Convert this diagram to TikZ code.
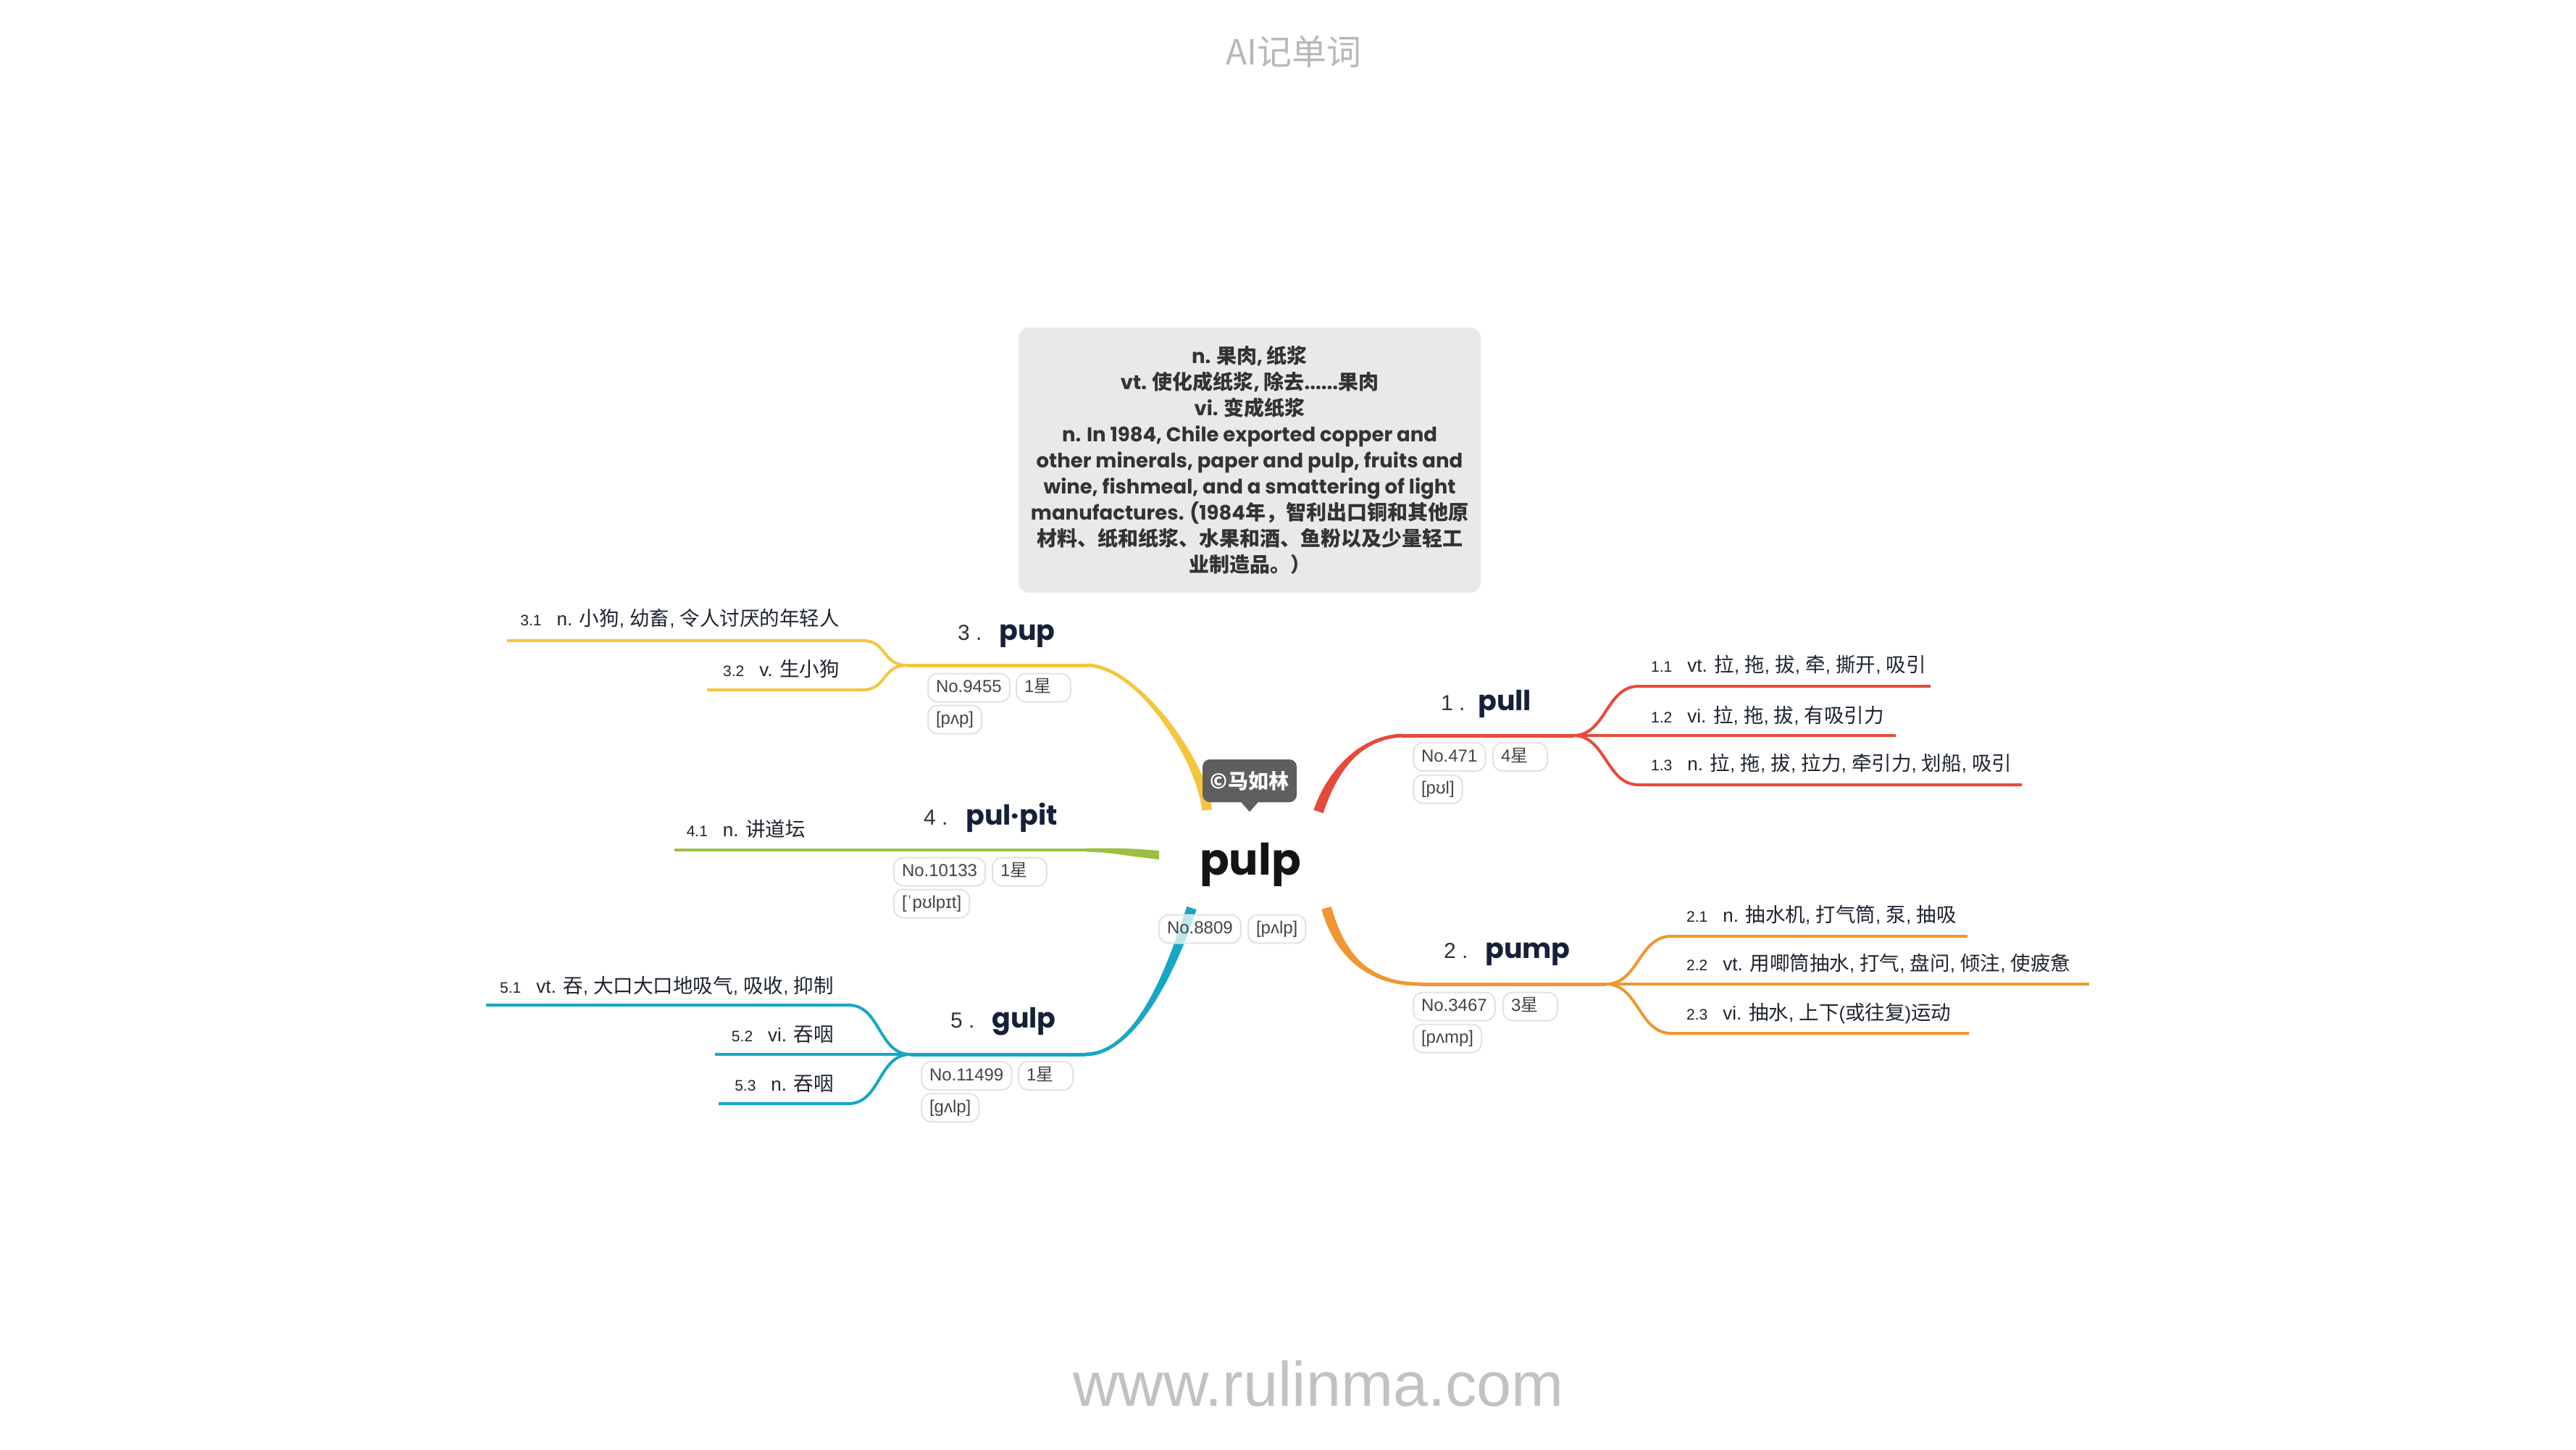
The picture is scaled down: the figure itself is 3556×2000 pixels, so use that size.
\documentclass[tikz,border=0pt]{standalone}
\usepackage{fontspec}
\setmainfont{Liberation Sans}
\newfontfamily\popf{Poppins}
\newfontfamily\cjkfam{Noto Sans CJK SC}
\usetikzlibrary{calc}
% automatic switch to the CJK font for CJK characters
\XeTeXinterchartokenstate=1
\newXeTeXintercharclass\CJKcls
\newcount\cjkc
\def\setcjkrange#1#2{\cjkc=#1 \loop\XeTeXcharclass\cjkc=\CJKcls\advance\cjkc by 1 \ifnum\cjkc<#2 \repeat}
\setcjkrange{"4E00}{"A000}
\setcjkrange{"3000}{"3040}
\setcjkrange{"FF00}{"FFF0}
\def\cjkswitch{\cjkfam}
\XeTeXinterchartoks 0 \CJKcls={\begingroup\cjkswitch}
\XeTeXinterchartoks 4095 \CJKcls={\begingroup\cjkswitch}
\XeTeXinterchartoks \CJKcls 0={\endgroup}
\XeTeXinterchartoks \CJKcls 4095={\endgroup}

\definecolor{cred}{HTML}{E64A3B}
\definecolor{corange}{HTML}{F0972F}
\definecolor{cyellow}{HTML}{F6C540}
\definecolor{cgreen}{HTML}{9DBE43}
\definecolor{cblue}{HTML}{17A6C6}
\definecolor{navy}{HTML}{16203A}
\definecolor{numc}{HTML}{333333}
\definecolor{labc}{HTML}{1E2430}
\definecolor{tagborder}{HTML}{E2E2E2}
\definecolor{tagtext}{HTML}{444444}
\definecolor{defbg}{HTML}{E9E9E9}
\definecolor{bubble}{HTML}{5E5E5E}
\definecolor{wmark}{HTML}{C2C2C2}

\newcommand\sublab[2]{{\fontsize{21}{26}\selectfont #1}\hspace{21pt}{\def\cjkswitch{\cjkfam\fontsize{27.5}{32}\selectfont}#2}}
\newcommand\taperbranch[7]{\fill[#1] ($#2+#6$) .. controls ($#3+#6$) and ($#4+#7$) .. ($#5+#7$) -- ($#5-#7$) .. controls ($#4-#7$) and ($#3-#6$) .. ($#2-#6$) -- cycle;}

\tikzset{
  sub/.style={line width=4pt},
  mainseg/.style={line width=5pt},
  tag/.style={draw=tagborder, line width=2pt, rounded corners=13pt, fill=white, fill opacity=0.72, text opacity=1, draw opacity=1, text=tagtext, font=\fontsize{24}{28}\selectfont, inner xsep=11pt, inner ysep=0pt, minimum height=39pt, text height=18pt, text depth=5pt, anchor=west},
  startag/.style={tag, text width=53pt, align=left},
  num/.style={anchor=base west, inner sep=0pt, font=\fontsize{30}{34}\selectfont, text=numc},
  word/.style={anchor=base west, inner sep=0pt, font=\popf\bfseries\fontsize{38}{44}\selectfont, text=navy},
  lab/.style={inner sep=0pt, font=\fontsize{26}{32}\selectfont, text=labc},
  labR/.style={lab, anchor=base west},
  labL/.style={lab, anchor=base east},
}

\begin{document}
\begin{tikzpicture}[x=1pt,y=-1pt]
\fill[white] (0,0) rectangle (3556,2000);
\useasboundingbox (0,0) rectangle (3556,2000);

% header and footer
\node[font=\cjkfam\fontsize{48}{56}\selectfont, text=wmark!95!black, inner sep=0pt] (title) at (1786,71) {AI记单词};
\node[anchor=base, font=\fontsize{86.5}{96}\selectfont, text=wmark, inner sep=0pt] (foot) at (1820,1940) {www.rulinma.com};

% definition box
\node[fill=defbg, rounded corners=14pt, minimum width=638pt, minimum height=366pt, align=center, inner sep=0pt,
      font=\def\cjkswitch{\cjkfam\fontsize{28}{36}\selectfont}\popf\bfseries\fontsize{27.5}{36}\selectfont, text=numc] (def) at (1725,635)
 {n. 果肉, 纸浆\\
  vt. 使化成纸浆, 除去......果肉\\
  vi. 变成纸浆\\
  n. In 1984, Chile exported copper and\\
  other minerals, paper and pulp, fruits and\\
  wine, fishmeal, and a smattering of light\\
  manufactures. (1984年，智利出口铜和其他原\\
  材料、纸和纸浆、水果和酒、鱼粉以及少量轻工\\
  业制造品。）};

% branch coordinates
\coordinate (r0) at (1820,1120); \coordinate (r3) at (1935,1015); \coordinate (rj) at (2172,1015);
\coordinate (o0) at (1831,1253); \coordinate (o3) at (1960,1358); \coordinate (oj) at (2217,1358);
\coordinate (y0) at (1666,1118); \coordinate (y3) at (1500,918);  \coordinate (yj) at (1252,918);
\coordinate (g0) at (1600,1180); \coordinate (g3) at (1500,1173); \coordinate (ge) at (931,1173);
\coordinate (b0) at (1645,1253); \coordinate (b3) at (1498,1455); \coordinate (bj) at (1257,1455);

% tapered main branches
\taperbranch{cred}{(r0)}{(1835,1075)}{(1870,1018)}{(r3)}{(6.6,2.2)}{(0,2.5)}
\taperbranch{corange}{(o0)}{(1850,1320)}{(1890,1358)}{(o3)}{(-6.7,1.9)}{(0,2.5)}
\taperbranch{cyellow}{(y0)}{(1660,1050)}{(1570,918)}{(y3)}{(7,-0.6)}{(0,-2.5)}
\taperbranch{cgreen}{(g0)}{(1560,1176)}{(1530,1173)}{(g3)}{(0,-6)}{(0,-2.5)}
\taperbranch{cblue}{(b0)}{(1620,1330)}{(1570,1455)}{(b3)}{(-6.6,-2.2)}{(0,-2.5)}

\draw[cred,mainseg] (r3) -- (rj);
\draw[corange,mainseg] (o3) -- (oj);
\draw[cyellow,mainseg] (y3) -- (yj);
\draw[cgreen,sub] (g3) -- (ge);
\draw[cblue,mainseg] (b3) -- (bj);

% sub branches: pull
\coordinate (r1s) at (2262,947);  \coordinate (r1e) at (2665,947);
\coordinate (r2e) at (2617,1015);
\coordinate (r3s) at (2262,1083); \coordinate (r3e) at (2791,1083);
\draw[cred,sub] (rj) .. controls +(45,0) and +(-45,0) .. (r1s) -- (r1e);
\draw[cred,sub] (rj) -- (r2e);
\draw[cred,sub] (rj) .. controls +(45,0) and +(-45,0) .. (r3s) -- (r3e);
% pump
\coordinate (o1s) at (2307,1292); \coordinate (o1e) at (2716,1292);
\coordinate (o2e) at (2884,1358);
\coordinate (o3s) at (2307,1426); \coordinate (o3e) at (2718,1426);
\draw[corange,sub] (oj) .. controls +(45,0) and +(-45,0) .. (o1s) -- (o1e);
\draw[corange,sub] (oj) -- (o2e);
\draw[corange,sub] (oj) .. controls +(45,0) and +(-45,0) .. (o3s) -- (o3e);
% pup
\coordinate (y1s) at (1190,884); \coordinate (y1e) at (700,884);
\coordinate (y2s) at (1190,952); \coordinate (y2e) at (976,952);
\draw[cyellow,sub] (yj) .. controls +(-35,0) and +(35,0) .. (y1s) -- (y1e);
\draw[cyellow,sub] (yj) .. controls +(-35,0) and +(35,0) .. (y2s) -- (y2e);
% gulp
\coordinate (b1s) at (1171,1387); \coordinate (b1e) at (671,1387);
\coordinate (b2e) at (987,1455);
\coordinate (b3s) at (1171,1523); \coordinate (b3e) at (992,1523);
\draw[cblue,sub] (bj) .. controls +(-45,0) and +(45,0) .. (b1s) -- (b1e);
\draw[cblue,sub] (bj) -- (b2e);
\draw[cblue,sub] (bj) .. controls +(-45,0) and +(45,0) .. (b3s) -- (b3e);

% central topic
\node[anchor=base, inner sep=0pt, font=\popf\bfseries\fontsize{60}{70}\selectfont, text=black!92] (c) at (1726,1207) {pulp};
\node[fill=bubble, rounded corners=10pt, minimum width=130pt, minimum height=59pt, inner sep=0pt,
      font=\cjkfam\bfseries\fontsize{28}{32}\selectfont, text=white] (cr) at (1725,1077.5) {©马如林};
\fill[bubble] ($(cr.south)+(-12,-0.5)$) -- ($(cr.south)+(12,-0.5)$) -- ($(cr.south)+(0,13)$) -- cycle;
\node[tag] (c1) at (1599,1282) {No.8809};
\node[tag] (c2) at (1722,1282) {[pʌlp]};

% 1 pull
\node[num] (n1) at (1989,980) {1 .};
\node[word] (t1) at (2040,980) {pull};
\node[tag] (t1a) at (1950,1044.5) {No.471};
\node[startag] (t1b) at (2060,1044.5) {4星};
\node[tag] (t1c) at (1950,1089) {[pʊl]};
\node[labR] (l11) at (2279,927) {\sublab{1.1}{vt. 拉, 拖, 拔, 牵, 撕开, 吸引}};
\node[labR] (l12) at (2279,997) {\sublab{1.2}{vi. 拉, 拖, 拔, 有吸引力}};
\node[labR] (l13) at (2279,1063) {\sublab{1.3}{n. 拉, 拖, 拔, 拉力, 牵引力, 划船, 吸引}};

% 2 pump
\node[num] (n2) at (1993,1322) {2 .};
\node[word] (t2) at (2050,1322) {pump};
\node[tag] (t2a) at (1950,1389) {No.3467};
\node[startag] (t2b) at (2074,1389) {3星};
\node[tag] (t2c) at (1950,1433) {[pʌmp]};
\node[labR] (l21) at (2328,1272) {\sublab{2.1}{n. 抽水机, 打气筒, 泵, 抽吸}};
\node[labR] (l22) at (2328,1339) {\sublab{2.2}{vt. 用唧筒抽水, 打气, 盘问, 倾注, 使疲惫}};
\node[labR] (l23) at (2328,1407) {\sublab{2.3}{vi. 抽水, 上下(或往复)运动}};

% 3 pup
\node[num] (n3) at (1322,883) {3 .};
\node[word] (t3) at (1379,883) {pup};
\node[tag] (t3a) at (1280,949) {No.9455};
\node[startag] (t3b) at (1402,949) {1星};
\node[tag] (t3c) at (1280,993) {[pʌp]};
\node[labL] (l31) at (1159,863) {\sublab{3.1}{n. 小狗, 幼畜, 令人讨厌的年轻人}};
\node[labL] (l32) at (1159,933) {\sublab{3.2}{v. 生小狗}};

% 4 pulpit
\node[num] (n4) at (1275,1138) {4 .};
\node[word] (t4) at (1333,1138) {pul·pit};
\node[tag] (t4a) at (1233,1203) {No.10133};
\node[startag] (t4b) at (1369,1203) {1星};
\node[tag] (t4c) at (1233,1247) {[ˈpʊlpɪt]};
\node[labL] (l41) at (1112,1154) {\sublab{4.1}{n. 讲道坛}};

% 5 gulp
\node[num] (n5) at (1312,1418) {5 .};
\node[word] (t5) at (1369,1418) {gulp};
\node[tag] (t5a) at (1271,1484.5) {No.11499};
\node[startag] (t5b) at (1405,1484.5) {1星};
\node[tag] (t5c) at (1271,1528.5) {[gʌlp]};
\node[labL] (l51) at (1151,1370) {\sublab{5.1}{vt. 吞, 大口大口地吸气, 吸收, 抑制}};
\node[labL] (l52) at (1151,1437) {\sublab{5.2}{vi. 吞咽}};
\node[labL] (l53) at (1151,1505) {\sublab{5.3}{n. 吞咽}};
\end{tikzpicture}
\end{document}
